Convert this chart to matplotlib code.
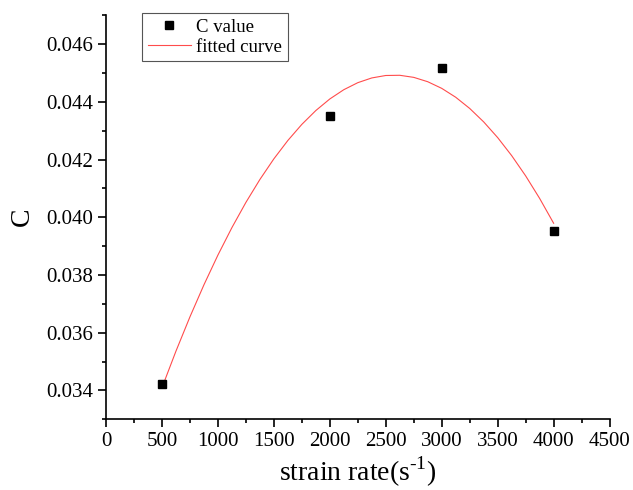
import matplotlib
matplotlib.use("Agg")
import matplotlib.pyplot as plt
from matplotlib.ticker import MultipleLocator, FormatStrFormatter

plt.rcParams['font.family'] = ['Liberation Serif', 'DejaVu Serif']
plt.rcParams['mathtext.fontset'] = 'custom'
plt.rcParams['mathtext.rm'] = 'Liberation Serif'

# measured C values
strain_rate = [500, 2000, 3000, 4000]
c_value = [0.03423, 0.04351, 0.04517, 0.03954]

# fitted curve, sampled along strain rate
fit_rate = [500, 625, 750, 875, 1000, 1125, 1250, 1375, 1500, 1625, 1750,
            1875, 2000, 2125, 2250, 2375, 2500, 2625, 2750, 2875, 3000,
            3125, 3250, 3375, 3500, 3625, 3750, 3875, 4000]
fit_c = [0.034096, 0.035362, 0.036550, 0.037659, 0.038690, 0.039641,
         0.040514, 0.041308, 0.042024, 0.042660, 0.043218, 0.043697,
         0.044098, 0.044419, 0.044662, 0.044826, 0.044911, 0.044918,
         0.044846, 0.044695, 0.044465, 0.044157, 0.043769, 0.043303,
         0.042759, 0.042135, 0.041433, 0.040652, 0.039792]

fig = plt.figure(figsize=(6.33, 4.9), dpi=100)
ax = fig.add_axes([0.1675, 0.1443, 0.7955, 0.8247])

ax.plot(strain_rate, c_value, 's', color='black', markersize=6.2,
        label='C value', zorder=3)
ax.plot(fit_rate, fit_c, '-', color='red', linewidth=0.8, alpha=0.7,
        label='fitted curve')

ax.set_xlim(0, 4500)
ax.set_ylim(0.033, 0.047)
ax.xaxis.set_major_locator(MultipleLocator(500))
ax.xaxis.set_minor_locator(MultipleLocator(250))
ax.yaxis.set_major_locator(MultipleLocator(0.002))
ax.yaxis.set_minor_locator(MultipleLocator(0.001))
ax.yaxis.set_major_formatter(FormatStrFormatter('%.3f'))

for side in ['top', 'right']:
    ax.spines[side].set_visible(False)
for side in ['left', 'bottom']:
    ax.spines[side].set_linewidth(1.2)

ax.tick_params(which='major', direction='out', length=5.5, width=1.2,
               labelsize=15, pad=4)
ax.tick_params(which='minor', direction='out', length=3, width=1.2)

ax.set_xlabel(r'strain rate(s$^{\text{-1}}$)', fontsize=20, labelpad=2)
ax.set_ylabel('C', fontsize=20, labelpad=8)

leg = ax.legend(loc='upper left', bbox_to_anchor=(0.0715, 1.005),
                borderaxespad=0, fontsize=13.5, fancybox=False,
                edgecolor='#555555', framealpha=1, handlelength=2.3,
                handletextpad=0.3, borderpad=0.3, labelspacing=0.15)
leg.get_frame().set_linewidth(0.8)

fig.savefig('out.png', dpi=100)
